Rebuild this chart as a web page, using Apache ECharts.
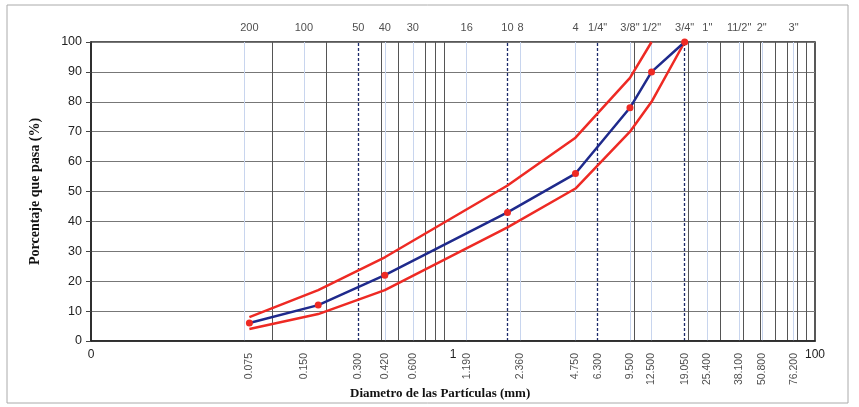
<!DOCTYPE html>
<html>
<head>
<meta charset="utf-8">
<script src="https://cdn.jsdelivr.net/npm/echarts@6/dist/echarts.min.js"></script>
<style>html,body{margin:0;padding:0;background:#fff}#c{width:859px;height:407px}</style>
</head>
<body>
<div id="c"></div>
<script>
// Sieve sizes (mm) and names shown along the top
const sieveSizes = [0.075, 0.15, 0.3, 0.42, 0.6, 1.19, 2.0, 2.36, 4.75, 6.3, 9.5, 12.5, 19.05, 25.4, 38.1, 50.8, 76.2];
const sieveNames = ['200', '100', '50', '40', '30', '16', '10', '8', '4', '1/4"', '3/8"', '1/2"', '3/4"', '1"', '11/2"', '2"', '3"'];
// Bottom rotated size labels
const sizeLabelValues = [0.075, 0.15, 0.3, 0.42, 0.6, 1.19, 2.36, 4.75, 6.3, 9.5, 12.5, 19.05, 25.4, 38.1, 50.8, 76.2];
const sizeLabelTexts = ['0.075', '0.150', '0.300', '0.420', '0.600', '1.190', '2.360', '4.750', '6.300', '9.500', '12.500', '19.050', '25.400', '38.100', '50.800', '76.200'];
// Vertical reference lines
const gridMinor = [0.1, 0.2, 0.4, 0.5, 0.6, 0.7, 0.8, 0.9, 10, 20, 30, 40, 50, 60, 70, 80, 90];
const gridDashed = [0.3, 2.0, 6.3, 19.05];
const gridLight = [0.075, 0.15, 0.42, 0.6, 1.19, 2.36, 4.75, 9.5, 12.5, 25.4, 38.1, 50.8, 76.2];
// Curves (diameter mm, % passing)
const curveX = [0.075, 0.18, 0.42, 2.0, 4.75, 9.5, 12.5, 19.05];
const curveY = [6, 12, 22, 43, 56, 78, 90, 100];
const upperX = [0.075, 0.18, 0.42, 2.0, 4.75, 9.5, 12.5];
const upperY = [8, 17, 28, 52, 68, 88, 100];
const lowerX = [0.075, 0.18, 0.42, 2.0, 4.75, 9.5, 12.5, 19.05];
const lowerY = [4, 9, 17, 38, 51, 70, 80, 100];

const zip = (xs, ys) => xs.map((x, i) => [x, ys[i]]);
const sansFont = 'Liberation Sans, Arial, sans-serif';
const serifFont = 'Liberation Serif, Times New Roman, serif';

const vLines = []
  .concat(gridMinor.map(v => ({ xAxis: v, lineStyle: { color: '#555', width: 1, type: 'solid' } })))
  .concat(gridLight.map(v => ({ xAxis: v, lineStyle: { color: '#c8d5ee', width: 1, type: 'solid' } })))
  .concat(gridDashed.map(v => ({ xAxis: v, lineStyle: { color: '#1c2a6a', width: 1.3, type: [3, 2] } })));

const chart = echarts.init(document.getElementById('c'), null, { renderer: 'canvas' });
chart.setOption({
  animation: false,
  backgroundColor: '#fff',
  grid: { left: 91, right: 44, top: 42, bottom: 66, show: true, borderColor: '#222', borderWidth: 1.5, backgroundColor: 'transparent' },
  graphic: [
    { type: 'rect', shape: { x: 7, y: 5, width: 841, height: 398 }, style: { fill: 'none', stroke: '#aaa', lineWidth: 1 }, z: -10 },
    { type: 'text', left: 350, top: 387, style: { text: 'Diametro de las Partículas (mm)', font: 'bold 13px ' + serifFont, fill: '#111' } }
  ],
  xAxis: {
    type: 'log', logBase: 10, min: 0.01, max: 100,
    axisLine: { show: true, lineStyle: { color: '#222', width: 1.5 } },
    axisTick: { show: false },
    splitLine: { show: false },
    minorSplitLine: { show: false },
    axisLabel: {
      color: '#222', fontFamily: sansFont, fontSize: 12, margin: 8,
      formatter: v => {
        const e = Math.round(Math.log10(v));
        if (e === -2) return '0';
        if (e === 0) return '1';
        if (e === 2) return '100';
        return '';
      }
    }
  },
  yAxis: {
    type: 'value', min: 0, max: 100, interval: 10,
    name: 'Porcentaje que pasa (%)', nameLocation: 'middle', nameRotate: 90, nameGap: 49,
    nameTextStyle: { fontFamily: serifFont, fontWeight: 'bold', fontSize: 14, color: '#111' },
    axisLine: { show: true, lineStyle: { color: '#222', width: 1.5 } },
    axisTick: { show: true, length: 5, lineStyle: { color: '#444' } },
    axisLabel: { color: '#222', fontFamily: sansFont, fontSize: 12.5, margin: 9 },
    splitLine: { show: true, lineStyle: { color: '#777', width: 1 } }
  },
  series: [
    {
      type: 'line', data: [], z: 0, silent: true,
      markLine: { silent: true, z: 0, symbol: ['none', 'none'], label: { show: false }, animation: false, data: vLines }
    },
    {
      type: 'scatter', z: 5, silent: true, symbolSize: 0,
      data: zip(sieveSizes, sieveSizes.map(() => 100)),
      label: {
        show: true, position: 'top', distance: 9, color: '#222', fontFamily: sansFont, fontSize: 11,
        formatter: p => sieveNames[p.dataIndex]
      }
    },
    {
      type: 'scatter', z: 5, silent: true, symbolSize: 0,
      data: zip(sizeLabelValues, sizeLabelValues.map(() => 0)),
      label: {
        show: true, position: 'bottom', distance: 12, rotate: 90, align: 'right', verticalAlign: 'middle',
        color: '#222', fontFamily: sansFont, fontSize: 10.5,
        formatter: p => sizeLabelTexts[p.dataIndex]
      }
    },
    {
      type: 'line', z: 10, data: zip(upperX, upperY), symbol: 'none',
      lineStyle: { color: '#ee2a24', width: 2.5 }
    },
    {
      type: 'line', z: 10, data: zip(lowerX, lowerY), symbol: 'none',
      lineStyle: { color: '#ee2a24', width: 2.5 }
    },
    {
      type: 'line', z: 12, data: zip(curveX, curveY), symbol: 'circle', symbolSize: 7,
      lineStyle: { color: '#1f2a8c', width: 2.5 },
      itemStyle: { color: '#ee2a24', borderWidth: 0 }
    }
  ]
});
</script>
</body>
</html>
